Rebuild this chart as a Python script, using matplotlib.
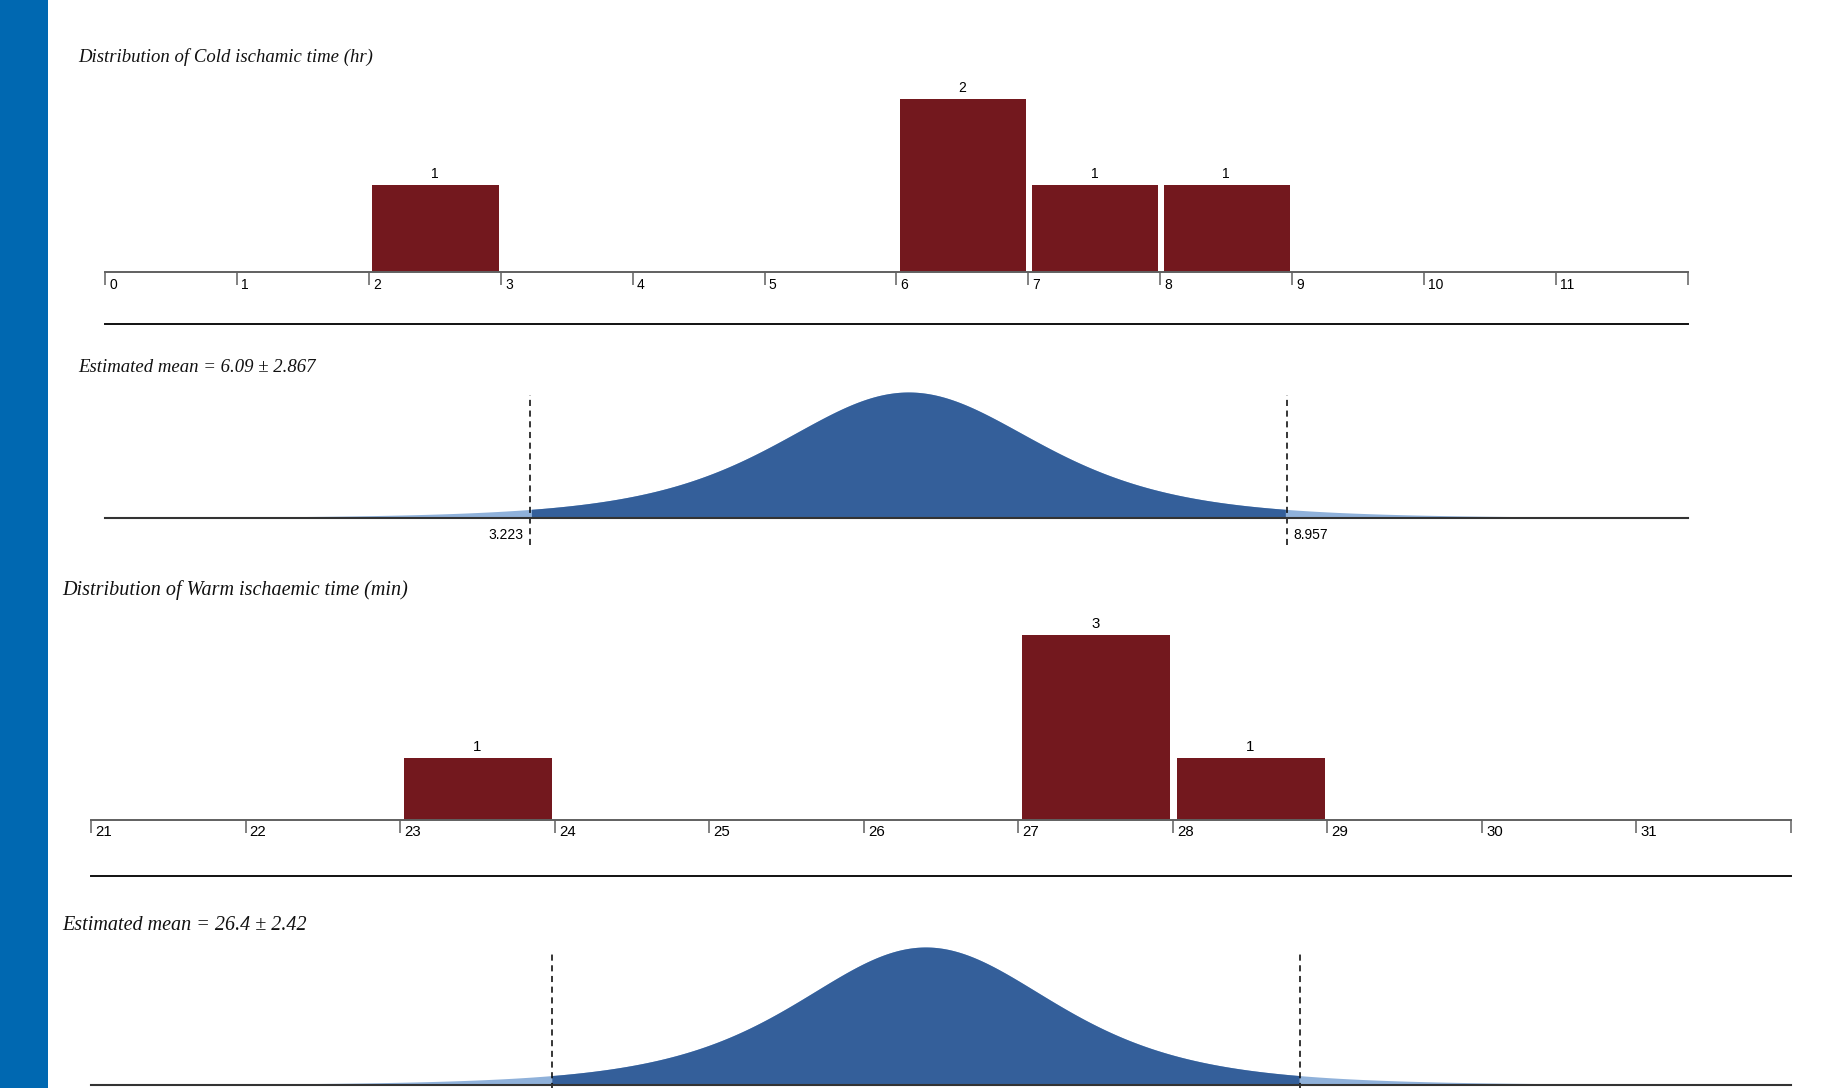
import numpy as np
import matplotlib.pyplot as plt
from matplotlib.patches import Rectangle
from matplotlib.lines import Line2D

# data
cold_bins = [0, 1, 2, 3, 4, 5, 6, 7, 8, 9, 10, 11]
cold_counts = [0, 0, 1, 0, 0, 0, 2, 1, 1, 0, 0, 0]
cold_mean = 6.09
cold_half = 2.867
cold_lo, cold_hi = 3.223, 8.957

warm_bins = [21, 22, 23, 24, 25, 26, 27, 28, 29, 30, 31]
warm_counts = [0, 0, 1, 0, 0, 0, 3, 1, 0, 0, 0]
warm_mean = 26.4
warm_half = 2.42
warm_lo, warm_hi = 23.98, 28.82

n_obs = 5
t_crit = 2.776  # t(0.975, df=4)

W, H = 1833, 1088
BAR = '#73181e'
DARK = '#345f9a'
LIGHT = '#8fb1da'
AXC = '#606060'

fig = plt.figure(figsize=(W / 100, H / 100), dpi=100)


def box(x0, ytop, x1, ybot):
    return [x0 / W, 1 - ybot / H, (x1 - x0) / W, (ybot - ytop) / H]


def hline(x0, x1, y):
    fig.add_artist(Line2D([x0 / W, x1 / W], [1 - y / H, 1 - y / H],
                          transform=fig.transFigure, color='#111111', lw=1.4))


def ftext(x, y, s, size):
    fig.text(x / W, 1 - y / H, s, family='Liberation Serif', style='italic',
             fontsize=size, va='center', ha='left', color='#111111')


def hist_panel(rect, bins, counts, ymax, fs):
    ax = fig.add_axes(rect)
    ax.set_facecolor('none')
    ax.bar(np.array(bins) + 0.025, counts, width=0.96, align='edge', color=BAR)
    for b, c in zip(bins, counts):
        if c > 0:
            ax.annotate(str(c), xy=(b + 0.5, c), xytext=(0, 3), textcoords='offset points',
                        ha='center', va='bottom', fontsize=fs, family='Liberation Sans')
    ticks = list(bins) + [bins[-1] + 1]
    ax.set_xlim(bins[0], bins[-1] + 1)
    ax.set_ylim(0, ymax)
    for s in ['top', 'left', 'right']:
        ax.spines[s].set_visible(False)
    ax.spines['bottom'].set_color(AXC)
    ax.spines['bottom'].set_linewidth(1.4)
    ax.set_yticks([])
    ax.set_xticks(ticks)
    ax.set_xticklabels([])
    ax.tick_params(axis='x', direction='out', length=9, width=1.1, color=AXC)
    for t in bins:
        ax.annotate(str(t), xy=(t, 0), xytext=(3, -4), textcoords='offset points',
                    ha='left', va='top', fontsize=fs, family='Liberation Sans')
    return ax


def dens_panel(rect, xlim, mean, half, lo, hi, dash_top, dash_bot, show_bounds):
    ax = fig.add_axes(rect)
    ax.set_facecolor('none')
    se = half / t_crit
    df = n_obs - 1
    x = np.linspace(xlim[0], xlim[1], 1200)
    y = (1 + ((x - mean) / se) ** 2 / df) ** (-(df + 1) / 2)
    ax.fill_between(x, 0, y, color=LIGHT, lw=0)
    inside = (x >= lo) & (x <= hi)
    ax.fill_between(x[inside], 0, y[inside], color=DARK, lw=0)
    ax.set_xlim(xlim)
    ax.set_ylim(0, 1)
    for s in ['top', 'left', 'right']:
        ax.spines[s].set_visible(False)
    ax.spines['bottom'].set_color('#333333')
    ax.spines['bottom'].set_linewidth(1.5)
    ax.set_xticks([])
    ax.set_yticks([])
    tr = ax.get_xaxis_transform()
    for v in (lo, hi):
        ax.plot([v, v], [dash_bot, dash_top], transform=tr, color='black', lw=1.1,
                dashes=(4, 3), clip_on=False)
    if show_bounds:
        ax.annotate(f'{lo:g}', xy=(lo, dash_bot), xycoords=tr, xytext=(-5, 2),
                    textcoords='offset points', ha='right', va='bottom',
                    fontsize=10, family='Liberation Sans', annotation_clip=False)
        ax.annotate(f'{hi:g}', xy=(hi, dash_bot), xycoords=tr, xytext=(5, 2),
                    textcoords='offset points', ha='left', va='bottom',
                    fontsize=10, family='Liberation Sans', annotation_clip=False)
    return ax


# left blue band
fig.add_artist(Rectangle((0, 0), 48 / W, 1, transform=fig.transFigure,
                         color='#0068b1', lw=0))

# cold ischaemic time
ftext(78, 57, 'Distribution of Cold ischamic time (hr)', 13.5)
hist_panel(box(105, 272 - 2.6 * 86.5, 1688, 272), cold_bins, cold_counts, 2.6, 10)
hline(105, 1688, 324)
ftext(78, 368, 'Estimated mean = %s \u00b1 %s' % (cold_mean, cold_half), 13.5)
dens_panel(box(105, 392, 1688, 518), (0, 12), cold_mean, cold_half, cold_lo, cold_hi,
           0.976, -27 / 126, True)

# warm ischaemic time (its bound labels fall below the picture's edge)
ftext(62, 590, 'Distribution of Warm ischaemic time (min)', 14.5)
hist_panel(box(91, 819.5 - 3.6 * 61.6, 1791, 819.5), warm_bins, warm_counts, 3.6, 10.8)
hline(91, 1791, 876)
ftext(62, 925, 'Estimated mean = %s \u00b1 %s' % (warm_mean, warm_half), 14.5)
dens_panel(box(91, 947, 1791, 1085), (21, 32), warm_mean, warm_half, warm_lo, warm_hi,
           0.978, -27 / 138, False)

fig.savefig('out.png', dpi=100)
